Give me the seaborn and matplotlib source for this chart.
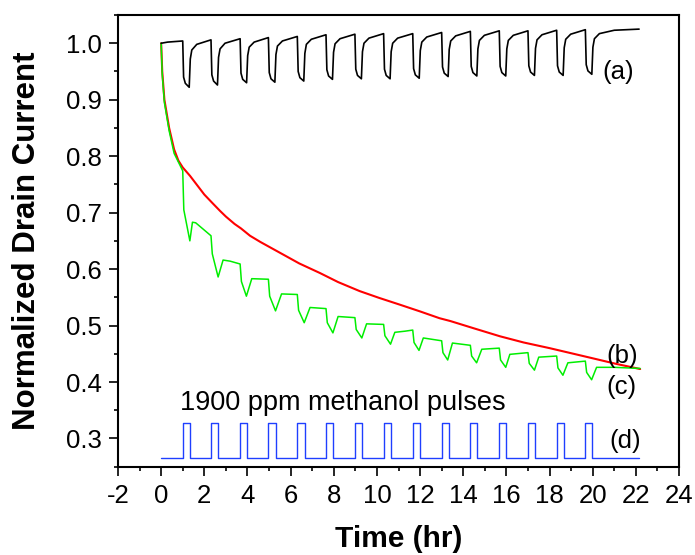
import matplotlib
matplotlib.use("Agg")
import matplotlib.pyplot as plt
import seaborn as sns
from matplotlib.ticker import MultipleLocator

# ---------------- data ----------------
# (a) black trace
a_t = [0.00, 0.30,
       1.00, 1.04, 1.12, 1.30, 1.35, 1.42, 1.65,
       2.31, 2.35, 2.43, 2.61, 2.66, 2.73, 2.96,
       3.66, 3.70, 3.78, 3.96, 4.01, 4.08, 4.31,
       4.97, 5.01, 5.09, 5.27, 5.32, 5.39, 5.62,
       6.31, 6.35, 6.43, 6.61, 6.66, 6.73, 6.96,
       7.64, 7.68, 7.76, 7.94, 7.99, 8.06, 8.29,
       8.98, 9.02, 9.10, 9.28, 9.33, 9.40, 9.63,
       10.31, 10.35, 10.43, 10.61, 10.66, 10.73, 10.96,
       11.66, 11.70, 11.78, 11.96, 12.01, 12.08, 12.31,
       13.00, 13.04, 13.12, 13.30, 13.35, 13.42, 13.65,
       14.33, 14.37, 14.45, 14.63, 14.68, 14.75, 14.98,
       15.67, 15.71, 15.79, 15.97, 16.02, 16.09, 16.32,
       17.00, 17.04, 17.12, 17.30, 17.35, 17.42, 17.65,
       18.33, 18.37, 18.45, 18.63, 18.68, 18.75, 18.98,
       19.66, 19.70, 19.78, 19.96, 20.01, 20.08, 20.31, 21.00, 22.15]
a_v = [1.000, 1.002,
       1.004, 0.940, 0.929, 0.922, 0.972, 0.988, 0.998,
       1.006, 0.944, 0.933, 0.926, 0.975, 0.990, 1.000,
       1.008, 0.947, 0.936, 0.930, 0.978, 0.993, 1.002,
       1.010, 0.948, 0.937, 0.931, 0.980, 0.995, 1.004,
       1.012, 0.950, 0.939, 0.933, 0.982, 0.998, 1.007,
       1.015, 0.953, 0.942, 0.936, 0.984, 0.999, 1.008,
       1.016, 0.954, 0.943, 0.937, 0.985, 1.000, 1.009,
       1.017, 0.954, 0.943, 0.937, 0.985, 1.000, 1.009,
       1.017, 0.955, 0.944, 0.938, 0.987, 1.002, 1.011,
       1.019, 0.958, 0.947, 0.941, 0.989, 1.004, 1.013,
       1.021, 0.959, 0.948, 0.942, 0.990, 1.005, 1.014,
       1.022, 0.959, 0.948, 0.942, 0.990, 1.005, 1.014,
       1.022, 0.960, 0.949, 0.943, 0.991, 1.006, 1.015,
       1.023, 0.960, 0.949, 0.943, 0.992, 1.007, 1.016,
       1.024, 0.962, 0.951, 0.945, 0.993, 1.008, 1.017, 1.023, 1.025]

# (b) red trace
b_t = [0.00, 0.05, 0.15, 0.37, 0.60, 0.80, 1.00, 1.34, 1.60, 2.00, 2.40, 2.73,
       3.00, 3.40, 3.70, 4.12, 4.60, 5.50, 6.40, 7.36, 8.20, 9.20, 10.10,
       11.06, 12.00, 12.90, 13.40, 14.50, 15.70, 16.80, 18.00, 19.00, 20.00,
       21.10, 22.20]
b_v = [1.000, 0.950, 0.900, 0.850, 0.812, 0.792, 0.780, 0.765, 0.752, 0.732,
       0.716, 0.703, 0.693, 0.680, 0.672, 0.659, 0.648, 0.629, 0.610, 0.593,
       0.577, 0.561, 0.549, 0.537, 0.525, 0.513, 0.508, 0.495, 0.481, 0.470,
       0.460, 0.451, 0.442, 0.432, 0.423]

# (c) green trace
c_t = [0.00, 0.05, 0.15, 0.37, 0.60, 1.00,
       1.05, 1.33, 1.45, 1.60, 2.31,
       2.37, 2.64, 2.87, 3.20, 3.66,
       3.72, 3.95, 4.20, 4.97,
       5.03, 5.30, 5.58, 6.31,
       6.37, 6.63, 6.90, 7.64,
       7.70, 7.96, 8.20, 8.98,
       9.04, 9.30, 9.52, 10.31,
       10.37, 10.63, 10.83, 11.30, 11.66,
       11.72, 11.95, 12.15, 13.00,
       13.06, 13.28, 13.50, 14.33,
       14.39, 14.62, 14.86, 15.67,
       15.73, 15.97, 16.16, 17.00,
       17.06, 17.30, 17.50, 18.33,
       18.39, 18.62, 18.85, 19.66,
       19.72, 19.95, 20.18, 21.00, 22.20]
c_v = [1.000, 0.945, 0.895, 0.845, 0.805, 0.774,
       0.705, 0.650, 0.683, 0.682, 0.659,
       0.627, 0.586, 0.616, 0.614, 0.609,
       0.578, 0.552, 0.583, 0.582,
       0.552, 0.526, 0.556, 0.555,
       0.527, 0.505, 0.532, 0.530,
       0.505, 0.487, 0.516, 0.514,
       0.493, 0.478, 0.503, 0.502,
       0.482, 0.467, 0.488, 0.490, 0.492,
       0.470, 0.456, 0.478, 0.473,
       0.452, 0.439, 0.469, 0.465,
       0.446, 0.434, 0.458, 0.460,
       0.439, 0.426, 0.449, 0.452,
       0.433, 0.421, 0.444, 0.446,
       0.425, 0.412, 0.434, 0.437,
       0.417, 0.404, 0.426, 0.426, 0.424]

# (d) blue methanol pulse train
pulse_on = [1.00, 2.31, 3.66, 4.97, 6.31, 7.64, 8.98, 10.31, 11.66,
            13.00, 14.33, 15.67, 17.00, 18.33, 19.66]
pulse_off = [1.34, 2.65, 3.99, 5.32, 6.67, 7.98, 9.32, 10.63, 12.00,
             13.34, 14.66, 16.00, 17.32, 18.66, 19.98]
d_low = 0.265
d_high = 0.327
d_start, d_end = 0.0, 22.15

labels = ["(a)", "(b)", "(c)", "(d)"]
label_t = [20.45, 20.64, 20.64, 20.77]
label_v = [0.949, 0.446, 0.391, 0.296]
note_text = "1900 ppm methanol pulses"
note_t, note_v = 0.87, 0.362

x_ticks = list(range(-2, 25, 2))
y_ticks = [0.3, 0.4, 0.5, 0.6, 0.7, 0.8, 0.9, 1.0]

# build blue step vertices from the read pulse times
d_t, d_v = [d_start], [d_low]
for on, off in zip(pulse_on, pulse_off):
    d_t += [on, on, off, off]
    d_v += [d_low, d_high, d_high, d_low]
d_t.append(d_end)
d_v.append(d_low)

# ---------------- plotting ----------------
sns.set_style("ticks")
plt.rcParams['font.family'] = ['Liberation Sans', 'DejaVu Sans']
plt.rcParams['text.color'] = 'black'
plt.rcParams['axes.labelcolor'] = 'black'

fig = plt.figure(figsize=(6.95, 5.55), dpi=100)
ax = fig.add_axes([118 / 695, 1 - 466.7 / 555, 561 / 695, 451.7 / 555])

sns.lineplot(x=b_t, y=b_v, ax=ax, color="#ff0000", lw=1.5, sort=False, estimator=None)
sns.lineplot(x=c_t, y=c_v, ax=ax, color="#00ee00", lw=1.1, sort=False, estimator=None)
sns.lineplot(x=a_t, y=a_v, ax=ax, color="#000000", lw=1.2, sort=False, estimator=None)
sns.lineplot(x=d_t, y=d_v, ax=ax, color="#1f3fff", lw=1.0, sort=False, estimator=None)

ax.set_xlim(-2, 24)
ax.set_ylim(0.25, 1.05)
ax.set_xticks(x_ticks)
ax.set_xticklabels([str(v) for v in x_ticks])
ax.set_yticks(y_ticks)
ax.set_yticklabels([f"{v:.1f}" for v in y_ticks])
ax.xaxis.set_minor_locator(MultipleLocator(1))
ax.yaxis.set_minor_locator(MultipleLocator(0.05))

for s in ax.spines.values():
    s.set_visible(True)
    s.set_linewidth(1.5)
    s.set_color("black")

ax.tick_params(which="major", direction="out", length=6.5, width=1.2,
               labelsize=18.5, colors="black", pad=5)
ax.tick_params(which="minor", direction="out", length=3.2, width=1.2, colors="black")
ax.tick_params(axis="x", which="major", pad=6)
ax.tick_params(top=False, right=False, which="both")

ax.set_xlabel("Time (hr)", fontsize=21.5, fontweight="bold", color="black")
ax.set_ylabel("Normalized Drain Current", fontsize=22.5, fontweight="bold", color="black")
ax.xaxis.set_label_coords(0.5, -0.128)
ax.yaxis.set_label_coords(-0.135, 0.5)

for lab, t, v in zip(labels, label_t, label_v):
    ax.text(t, v, lab, fontsize=18.5, ha="left", va="center", color="black")
ax.text(note_t, note_v, note_text, fontsize=19.5, ha="left", va="center", color="black")

ax.grid(False)
fig.savefig("out.png", dpi=100)
